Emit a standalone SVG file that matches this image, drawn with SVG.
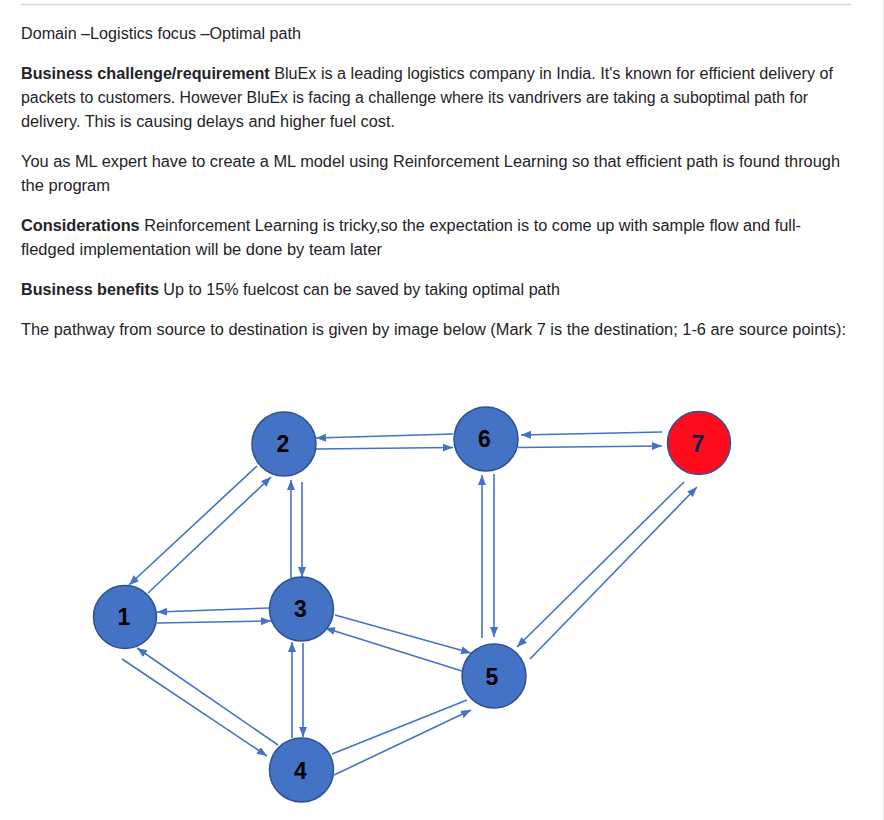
<svg xmlns="http://www.w3.org/2000/svg" width="884" height="820" viewBox="0 0 884 820">
<style>
.t{font-family:"Liberation Sans",Arial,sans-serif;font-size:16px;fill:#1f2328}
.b{font-weight:bold}
.n{fill:#4472C4;stroke:#2F528F;stroke-width:1.5}
.r{fill:#FF0D1E;stroke:#2F528F;stroke-width:1.5}
.l{font-family:"Liberation Sans",Arial,sans-serif;font-size:23px;font-weight:bold;fill:#000;text-anchor:middle}
.c line{stroke:#4472C4;stroke-width:1.6;fill:none}
</style>
<defs>
<marker id="a" markerUnits="userSpaceOnUse" markerWidth="11" markerHeight="9" refX="10" refY="4" orient="auto">
<path d="M0,0 L10,4 L0,8 z" fill="#4472C4"/>
</marker>
</defs>
<rect width="884" height="820" fill="#fff"/>
<line x1="21" y1="4.5" x2="851" y2="4.5" stroke="#d0d7de" stroke-width="1.5"/>
<line x1="883.5" y1="0" x2="883.5" y2="820" stroke="#e6e9ec" stroke-width="1"/>
<g id="text">
<text class="t" x="21" y="39" textLength="280" lengthAdjust="spacingAndGlyphs">Domain –Logistics focus –Optimal path</text>
<text class="t" x="21" y="79" textLength="812" lengthAdjust="spacingAndGlyphs"><tspan class="b">Business challenge/requirement</tspan> BluEx is a leading logistics company in India. It's known for efficient delivery of</text>
<text class="t" x="21" y="103" textLength="787" lengthAdjust="spacingAndGlyphs">packets to customers. However BluEx is facing a challenge where its vandrivers are taking a suboptimal path for</text>
<text class="t" x="21" y="127" textLength="374" lengthAdjust="spacingAndGlyphs">delivery. This is causing delays and higher fuel cost.</text>
<text class="t" x="21" y="167" textLength="819" lengthAdjust="spacingAndGlyphs">You as ML expert have to create a ML model using Reinforcement Learning so that efficient path is found through</text>
<text class="t" x="21" y="191" textLength="89" lengthAdjust="spacingAndGlyphs">the program</text>
<text class="t" x="21" y="231" textLength="780" lengthAdjust="spacingAndGlyphs"><tspan class="b">Considerations</tspan> Reinforcement Learning is tricky,so the expectation is to come up with sample flow and full-</text>
<text class="t" x="21" y="255" textLength="361" lengthAdjust="spacingAndGlyphs">fledged implementation will be done by team later</text>
<text class="t" x="21" y="295" textLength="539" lengthAdjust="spacingAndGlyphs"><tspan class="b">Business benefits</tspan> Up to 15% fuelcost can be saved by taking optimal path</text>
<text class="t" x="21" y="335" textLength="825" lengthAdjust="spacingAndGlyphs">The pathway from source to destination is given by image below (Mark 7 is the destination; 1-6 are source points):</text>
</g>
<g id="connectors" class="c">
<line x1="453" y1="434" x2="316" y2="438" marker-end="url(#a)"/>
<line x1="316" y1="449" x2="453" y2="447.5" marker-end="url(#a)"/>
<line x1="662" y1="432" x2="521" y2="435" marker-end="url(#a)"/>
<line x1="518" y1="447.5" x2="662" y2="446" marker-end="url(#a)"/>
<line x1="257" y1="466" x2="129" y2="585" marker-end="url(#a)"/>
<line x1="148" y1="593" x2="271" y2="477" marker-end="url(#a)"/>
<line x1="291" y1="578" x2="291" y2="480" marker-end="url(#a)"/>
<line x1="302" y1="482" x2="302" y2="577" marker-end="url(#a)"/>
<line x1="270" y1="608" x2="157" y2="612" marker-end="url(#a)"/>
<line x1="157" y1="623" x2="271" y2="621" marker-end="url(#a)"/>
<line x1="482" y1="638" x2="482" y2="475" marker-end="url(#a)"/>
<line x1="494" y1="474" x2="494" y2="637" marker-end="url(#a)"/>
<line x1="684" y1="482" x2="517" y2="647" marker-end="url(#a)"/>
<line x1="530" y1="659" x2="697" y2="487" marker-end="url(#a)"/>
<line x1="335" y1="615" x2="471" y2="653" marker-end="url(#a)"/>
<line x1="462" y1="671" x2="325" y2="628" marker-end="url(#a)"/>
<line x1="122" y1="659" x2="267" y2="756" marker-end="url(#a)"/>
<line x1="278" y1="745" x2="137" y2="648" marker-end="url(#a)"/>
<line x1="292" y1="738" x2="292" y2="642" marker-end="url(#a)"/>
<line x1="303" y1="643" x2="303" y2="737" marker-end="url(#a)"/>
<line x1="332" y1="754" x2="467" y2="700"/>
<line x1="334" y1="775" x2="471" y2="710" marker-end="url(#a)"/>
</g>
<g id="node1"><circle class="n" cx="125" cy="617" r="31.5"/><text class="l" x="124" y="625">1</text></g>
<g id="node2"><circle class="n" cx="284" cy="444" r="32"/><text class="l" x="283" y="452">2</text></g>
<g id="node3"><circle class="n" cx="301.5" cy="609" r="32"/><text class="l" x="300.5" y="617">3</text></g>
<g id="node4"><circle class="n" cx="301.5" cy="770" r="32"/><text class="l" x="300.5" y="779">4</text></g>
<g id="node5"><circle class="n" cx="494" cy="676" r="32"/><text class="l" x="492" y="685">5</text></g>
<g id="node6"><circle class="n" cx="486" cy="439" r="32"/><text class="l" x="484.5" y="447">6</text></g>
<g id="node7"><circle class="r" cx="699" cy="443" r="31.5"/><text class="l" x="698" y="452" style="fill:#0F1F4F">7</text></g>
</svg>
